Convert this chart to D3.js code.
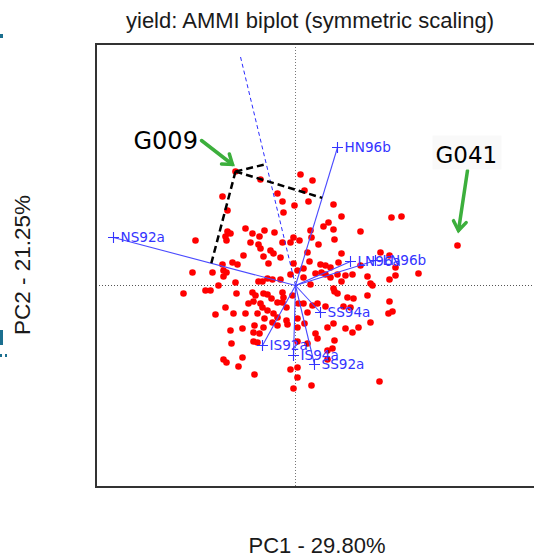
<!DOCTYPE html>
<html><head><meta charset="utf-8">
<script src="https://cdn.jsdelivr.net/npm/d3@7"></script>
<style>html,body{margin:0;padding:0;background:#fff;overflow:hidden}</style>
</head><body>
<svg id="chart" width="534" height="558"></svg>
<script>
// ---- data ----
const titleText = "yield: AMMI biplot (symmetric scaling)";
const xLabel = "PC1 - 29.80%";
const yLabel = "PC2 - 21.25%";

const envNames = ["HN96b","NS92a","LN96a","LN96b","SS94a","IS92a","IS94a","SS92a"];
const envPC1   = [0.42, -1.82, 0.55, 0.80, 0.25, -0.33, -0.02, 0.19];
const envPC2   = [1.38,  0.48, 0.24, 0.25, -0.27, -0.60, -0.70, -0.79];

const genPC1 = [-0.60,-0.35,0.05,0.17,0.09,-0.73,-0.18,-0.13,-0.01,0.13,0.38,-0.68,-0.12,0.46,0.33,0.28,0.38,0.15,0.16,0.39,
  0.65,0.96,1.06,1.62,0.23,-0.50,-0.43,-0.68,-0.70,-0.65,-0.69,-1.00,-0.45,-0.36,-0.31,-0.37,-0.35,-0.21,-0.02,0.04,
  -0.13,-0.05,-0.25,-0.22,-0.15,-0.32,-0.52,-0.27,-0.02,-0.73,-0.63,-0.58,-0.72,-0.83,-1.03,-0.69,-0.72,-0.28,-0.23,-0.37,
  -0.33,-0.60,-0.77,-0.15,0.02,0.08,0.12,0.46,0.14,0.25,0.30,0.43,0.35,0.85,0.94,1.00,1.23,1.00,0.72,0.20,
  0.26,0.30,0.42,0.50,0.57,0.65,0.75,0.94,0.08,0.15,0.35,0.46,0.38,-1.12,-0.90,-0.85,-0.59,-0.43,-0.40,-0.32,
  -0.28,-0.24,-0.13,-0.12,-0.13,-0.18,-0.35,-0.33,-0.47,-0.42,-0.28,-0.38,-0.50,-0.62,-0.80,-0.70,-0.22,-0.18,-0.09,0.03,
  0.08,0.17,0.22,0.12,0.30,0.39,0.42,0.52,0.58,0.48,0.55,0.72,0.77,0.94,0.93,0.97,0.75,0.63,0.57,0.50,
  0.38,0.32,0.39,0.20,0.22,0.02,-0.09,-0.08,0.09,0.02,-0.31,-0.32,-0.23,-0.18,-0.41,-0.53,-0.65,-0.42,-0.36,-0.42,
  -0.38,-0.64,0.02,0.12,0.32,0.37,-0.72,-0.69,-0.53,-0.57,-0.41,-0.05,0.02,-0.02,0.16,0.84,0.02,0.32,-0.05,-0.03];
const genPC2 = [1.14,1.06,1.11,1.05,0.95,0.89,0.92,0.84,0.80,0.84,0.81,0.75,0.73,0.69,0.63,0.59,0.56,0.55,0.48,0.46,
  0.54,0.68,0.69,0.40,0.41,0.57,0.52,0.54,0.49,0.52,0.45,0.45,0.43,0.49,0.55,0.41,0.37,0.53,0.48,0.45,
  0.43,0.43,0.35,0.32,0.28,0.29,0.30,0.22,0.22,0.21,0.23,0.21,0.15,0.13,0.13,0.13,0.09,0.07,0.06,0.04,
  0.04,0.03,0.00,0.06,0.15,0.17,0.33,0.32,0.24,0.21,0.20,0.23,0.18,0.33,0.30,0.18,0.12,0.10,0.09,0.12,
  0.13,0.11,0.11,0.10,0.11,0.20,0.02,0.06,0.08,0.01,0.08,0.04,-0.03,-0.08,-0.05,-0.05,-0.08,-0.07,-0.10,-0.08,
  -0.09,-0.13,-0.07,-0.12,-0.17,-0.17,-0.18,-0.22,-0.18,-0.16,-0.25,-0.28,-0.28,-0.28,-0.29,-0.22,-0.28,-0.32,-0.22,-0.18,
  -0.18,-0.20,-0.18,-0.27,-0.21,-0.06,-0.08,-0.12,-0.13,-0.21,-0.22,-0.10,0.00,-0.16,-0.28,-0.26,-0.37,-0.42,-0.47,-0.43,
  -0.38,-0.42,-0.55,-0.48,-0.53,-0.33,-0.35,-0.39,-0.38,-0.42,-0.33,-0.42,-0.37,-0.40,-0.40,-0.43,-0.45,-0.47,-0.48,-0.56,
  -0.57,-0.58,-0.56,-0.58,-0.65,-0.63,-0.74,-0.77,-0.72,-0.81,-0.89,-0.84,-0.92,-1.03,-1.00,-0.96,-0.82,-0.74,0.11,-0.10];

const markedNames = ["G009","G041"];
const markedIndex = [0, 23];
const projTargets = ["HN96b","NS92a"];   // G009 projected onto these vectors
const axisEnv = "SS92a";                  // and onto the reversed axis of this one
const axisExtend = 2.9;

// ---- drawing ----
const svg = d3.select("#chart");
const x = d3.scaleLinear().domain([-1.995, 2.525]).range([96, 548]);
const y = d3.scaleLinear().domain([-2.015, 2.415]).range([487, 44]);
const X0 = x(0), Y0 = y(0);

// left-edge fragments from the slide behind
const teal = "#1b6f8f";
svg.append("rect").attr("x",0).attr("y",34).attr("width",3).attr("height",4).attr("fill",teal);
svg.append("rect").attr("x",0).attr("y",330).attr("width",3).attr("height",15).attr("fill",teal);
svg.append("rect").attr("x",0).attr("y",354).attr("width",2).attr("height",3).attr("fill",teal);
svg.append("rect").attr("x",5).attr("y",354).attr("width",2).attr("height",3).attr("fill",teal);

svg.append("text").attr("x",310).attr("y",28).attr("text-anchor","middle")
  .attr("font-family","Liberation Sans, Arial, sans-serif").attr("font-size",22).attr("fill","#1a1a1a").text(titleText);
svg.append("text").attr("x",317).attr("y",553).attr("text-anchor","middle")
  .attr("font-family","Liberation Sans, Arial, sans-serif").attr("font-size",22).attr("fill","#1a1a1a").text(xLabel);
svg.append("text").attr("transform","translate(30,265) rotate(-90)").attr("text-anchor","middle")
  .attr("font-family","Liberation Sans, Arial, sans-serif").attr("font-size",22.5).attr("fill","#1a1a1a").text(yLabel);

// dotted reference lines
svg.append("line").attr("x1",X0).attr("x2",X0).attr("y1",y.range()[1]).attr("y2",y.range()[0])
  .attr("stroke","#777").attr("stroke-width",1).attr("stroke-dasharray","1,2");
svg.append("line").attr("x1",x.range()[0]).attr("x2",x.range()[1]).attr("y1",Y0).attr("y2",Y0)
  .attr("stroke","#555").attr("stroke-width",1).attr("stroke-dasharray","1,2");

// genotype points
const gens = genPC1.map((v,i)=>({pc1:v, pc2:genPC2[i]}));
svg.append("g").selectAll("circle").data(gens).join("circle")
  .attr("cx",d=>x(d.pc1)).attr("cy",d=>y(d.pc2)).attr("r",3.3).attr("fill","#ff0000");

// environment vectors
const envs = envNames.map((n,i)=>({name:n, pc1:envPC1[i], pc2:envPC2[i]}));
const blue = "#3434ff";
svg.append("g").selectAll("line").data(envs).join("line")
  .attr("x1",X0).attr("y1",Y0).attr("x2",d=>x(d.pc1)).attr("y2",d=>y(d.pc2))
  .attr("stroke","#4a4aff").attr("stroke-width",1.1);

// reversed axis (dashed blue)
const ax = envs.find(e=>e.name===axisEnv);
svg.append("line").attr("x1",X0).attr("y1",Y0)
  .attr("x2",x(-axisExtend*ax.pc1)).attr("y2",y(-axisExtend*ax.pc2))
  .attr("stroke","#2b2bff").attr("stroke-width",1).attr("stroke-dasharray","4,3");

// projections of G009
const g9 = gens[markedIndex[0]];
function proj(p, d){ const t=(p.pc1*d.pc1+p.pc2*d.pc2)/(d.pc1*d.pc1+d.pc2*d.pc2); return {pc1:t*d.pc1, pc2:t*d.pc2}; }
const projDirs = projTargets.map(n=>envs.find(e=>e.name===n)).concat([{pc1:-ax.pc1, pc2:-ax.pc2}]);
svg.append("g").selectAll("line").data(projDirs).join("line")
  .attr("x1",x(g9.pc1)).attr("y1",y(g9.pc2))
  .attr("x2",d=>x(proj(g9,d).pc1)).attr("y2",d=>y(proj(g9,d).pc2))
  .attr("stroke","#000").attr("stroke-width",2.5).attr("stroke-dasharray","7,4");

// env markers and labels
const eg = svg.append("g").selectAll("g").data(envs).join("g")
  .attr("transform",d=>`translate(${x(d.pc1)},${y(d.pc2)})`);
eg.append("path").attr("d","M-5.5,0H5.5M0,-5.5V5.5").attr("stroke",blue).attr("stroke-width",1.1);
eg.append("text").attr("x",7).attr("y",4.8).attr("font-family","DejaVu Sans, sans-serif")
  .attr("font-size",13.6).attr("fill",blue).text(d=>d.name);

// frame
svg.append("rect").attr("x",x.range()[0]).attr("y",y.range()[1])
  .attr("width",x.range()[1]-x.range()[0]).attr("height",y.range()[0]-y.range()[1])
  .attr("fill","none").attr("stroke","#333").attr("stroke-width",2);

// annotations
const green = "#3caf3c";
function arrow(tx, ty, hx, hy){
  svg.append("line").attr("x1",tx).attr("y1",ty).attr("x2",hx).attr("y2",hy)
    .attr("stroke",green).attr("stroke-width",3.5).attr("stroke-linecap","round");
  const a = Math.atan2(hy-ty, hx-tx), L=11, s=0.62;
  const p1=[hx-L*Math.cos(a-s), hy-L*Math.sin(a-s)], p2=[hx-L*Math.cos(a+s), hy-L*Math.sin(a+s)];
  svg.append("path").attr("d",`M${p1}L${hx},${hy}L${p2}`).attr("fill","none")
    .attr("stroke",green).attr("stroke-width",3.5).attr("stroke-linejoin","miter").attr("stroke-linecap","round");
}
const g41 = gens[markedIndex[1]];
const p9 = [x(g9.pc1), y(g9.pc2)], p41 = [x(g41.pc1), y(g41.pc2)];
arrow(p9[0]-34, p9[1]-31, p9[0]-3, p9[1]-7);
arrow(p41[0]+10, p41[1]-75, p41[0]+1, p41[1]-15);

svg.append("rect").attr("x",p41[0]-25).attr("y",p41[1]-110).attr("width",69).attr("height",34).attr("fill","#f9f9f9");
svg.append("text").attr("x",p9[0]-102).attr("y",p9[1]-23).attr("font-family","DejaVu Sans, sans-serif")
  .attr("font-size",24).attr("fill","#000").text(markedNames[0]);
svg.append("text").attr("x",p41[0]-22).attr("y",p41[1]-83).attr("font-family","DejaVu Sans, sans-serif")
  .attr("font-size",23).attr("fill","#000").text(markedNames[1]);
</script>
</body></html>
